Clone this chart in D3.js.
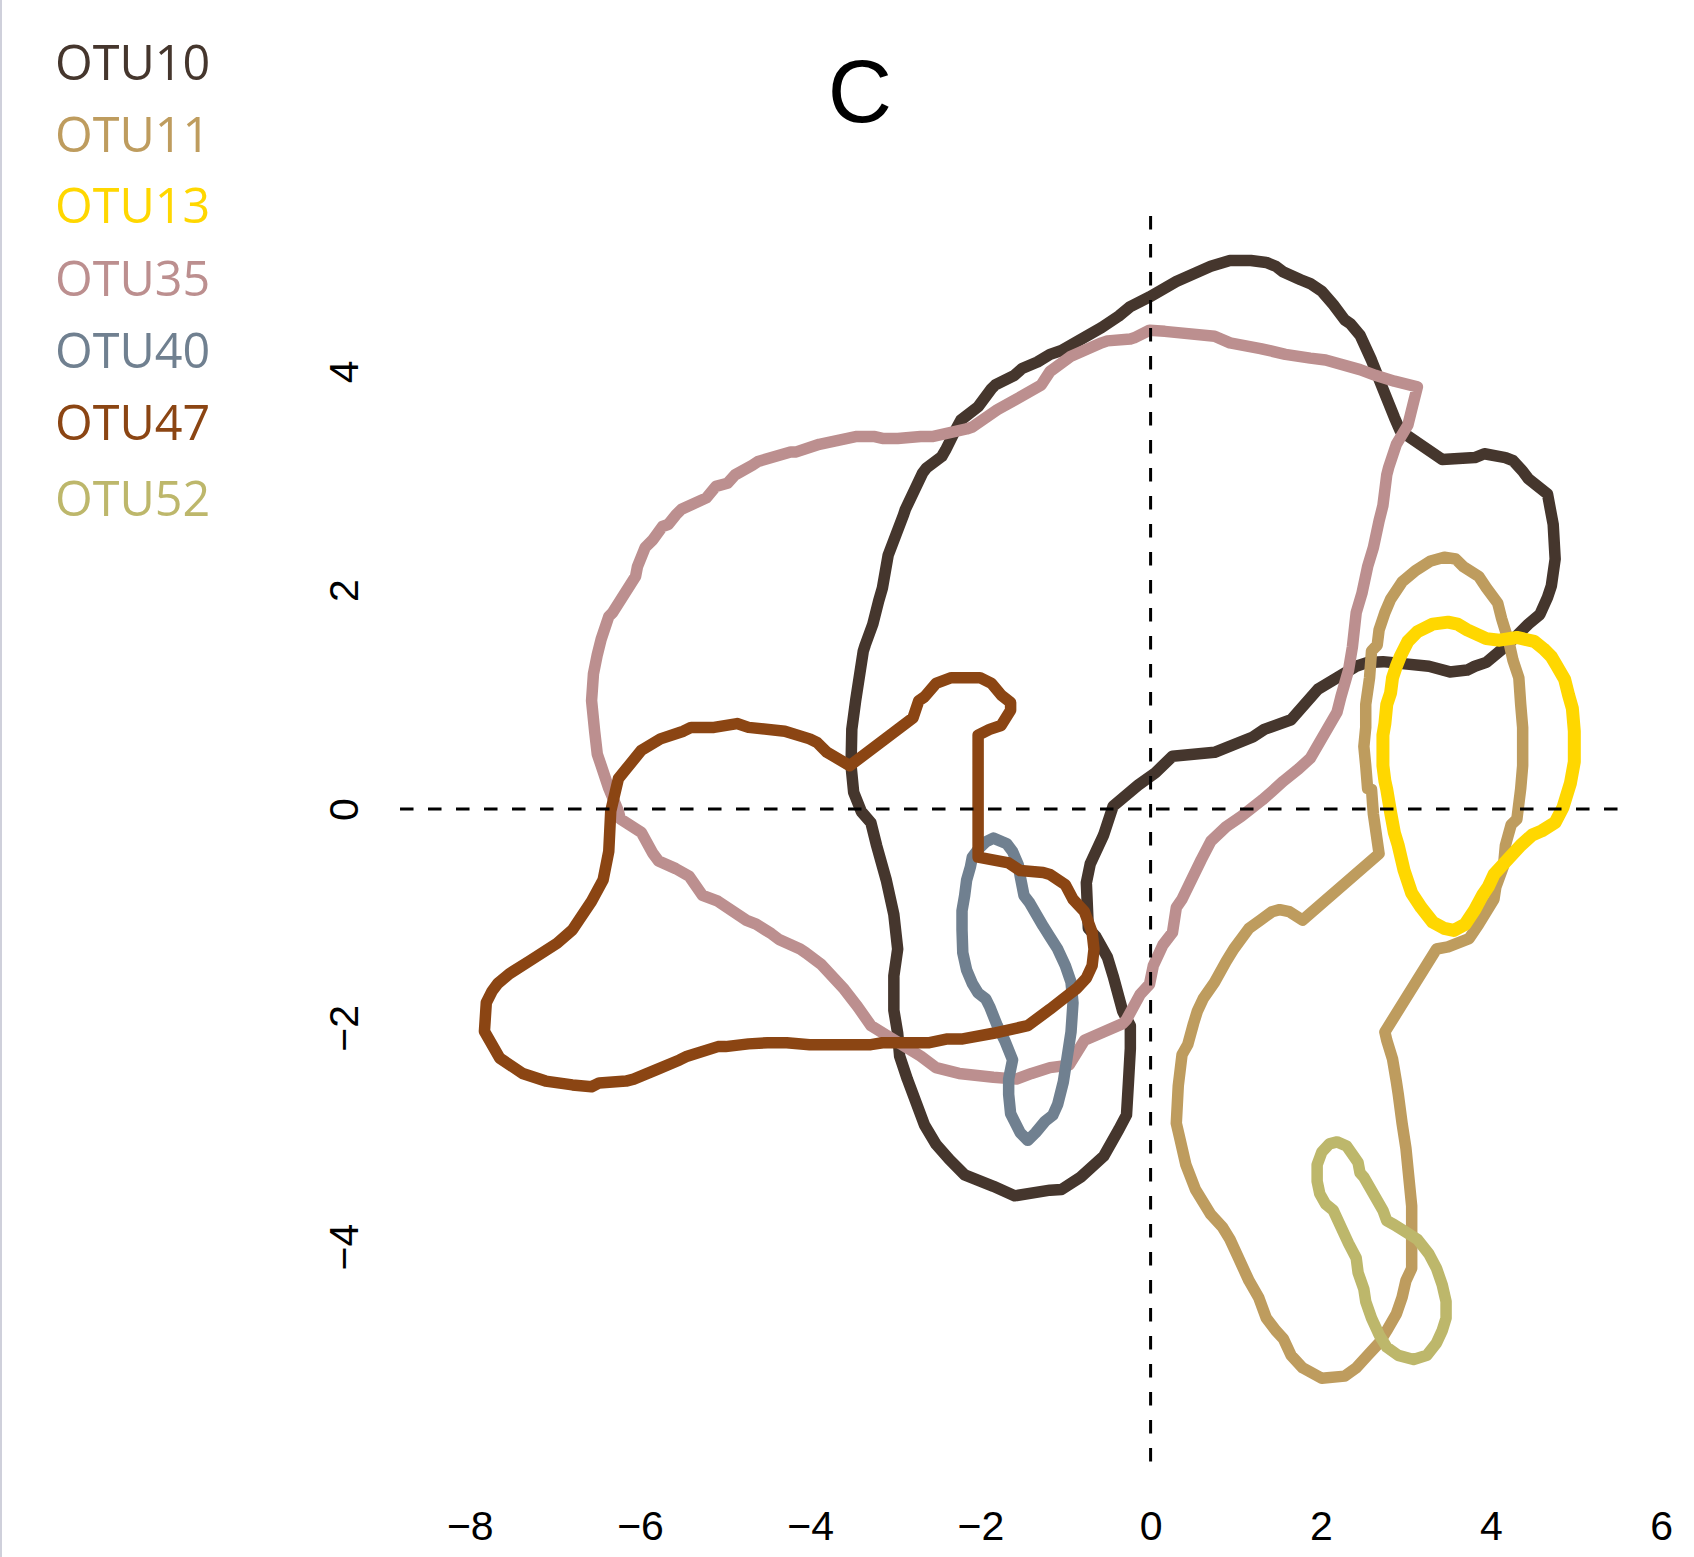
<!DOCTYPE html>
<html>
<head>
<meta charset="utf-8">
<script src="https://cdn.jsdelivr.net/npm/d3@7"></script>
<style>
  html, body { margin: 0; padding: 0; background: #fff; }
  svg { display: block; }
</style>
</head>
<body>
<script>
// Contour outlines for each OTU, as [x, y] ordination coordinates.
const otu10 = [
  [-1.182,4.156],[-1.330,4.086],[-1.510,4.027],[-1.600,3.964],[-1.825,3.876],[-1.870,3.841],
  [-2.027,3.677],[-2.230,3.555],[-2.297,3.457],[-2.409,3.282],[-2.454,3.222],[-2.634,3.117],
  [-2.679,3.072],[-2.882,2.739],[-2.904,2.687],[-3.084,2.320],[-3.151,2.022],[-3.196,1.900],
  [-3.264,1.690],[-3.354,1.498],[-3.376,1.445],[-3.466,0.990],[-3.511,0.728],[-3.520,0.396],
  [-3.489,0.151],[-3.399,-0.024],[-3.286,-0.126],[-3.219,-0.336],[-3.106,-0.650],[-3.017,-0.965],
  [-2.972,-1.280],[-3.017,-1.525],[-3.017,-1.840],[-2.972,-2.050],[-2.949,-2.259],[-2.859,-2.469],
  [-2.657,-2.889],[-2.522,-3.064],[-2.364,-3.204],[-2.185,-3.344],[-1.847,-3.449],[-1.600,-3.536],
  [-1.182,-3.484],[-1.047,-3.478],[-0.822,-3.365],[-0.552,-3.175],[-0.373,-2.929],[-0.283,-2.796],
  [-0.260,-2.493],[-0.238,-2.190],[-0.238,-1.981],[-0.328,-1.849],[-0.440,-1.527],[-0.507,-1.356],
  [-0.642,-1.167],[-0.732,-1.091],[-0.755,-0.674],[-0.710,-0.503],[-0.552,-0.238],[-0.440,0.027],
  [-0.148,0.217],[0.055,0.331],[0.257,0.482],[0.752,0.518],[1.201,0.658],[1.336,0.728],
  [1.651,0.816],[1.966,1.095],[2.191,1.200],[2.416,1.305],[2.550,1.340],[2.730,1.347],
  [3.270,1.305],[3.517,1.253],[3.720,1.270],[3.810,1.305],[3.945,1.340],[4.214,1.515],
  [4.439,1.690],[4.574,1.778],[4.664,1.935],[4.709,2.040],[4.754,2.285],[4.731,2.600],
  [4.664,2.879],[4.439,3.019],[4.372,3.089],[4.259,3.184],[4.169,3.212],[3.922,3.247],
  [3.810,3.212],[3.427,3.194],[2.933,3.457],[2.865,3.579],[2.730,3.841],[2.595,4.104],
  [2.461,4.331],[2.348,4.436],[2.281,4.471],[2.146,4.611],[2.011,4.733],[1.876,4.803],
  [1.763,4.838],[1.561,4.908],[1.471,4.961],[1.359,4.996],[1.179,5.013],[0.932,5.013],
  [0.707,4.961],[0.302,4.821],[-0.013,4.681],[-0.238,4.593],[-0.373,4.506],[-0.575,4.401],
  [-1.047,4.191]
];

const otu11 = [
  [2.550,0.186],[2.528,0.396],[2.506,0.571],[2.528,0.746],[2.528,0.955],[2.573,1.200],
  [2.596,1.445],[2.663,1.498],[2.685,1.638],[2.753,1.795],[2.820,1.917],[2.955,2.075],
  [3.113,2.180],[3.292,2.267],[3.450,2.302],[3.585,2.285],[3.675,2.215],[3.855,2.127],
  [3.945,2.022],[4.079,1.882],[4.124,1.743],[4.214,1.515],[4.259,1.358],[4.327,1.200],
  [4.349,0.955],[4.372,0.746],[4.372,0.396],[4.349,0.186],[4.304,-0.094],[4.237,-0.143],
  [4.169,-0.333],[4.147,-0.522],[4.057,-0.712],[4.035,-0.825],[3.855,-1.053],[3.742,-1.185],
  [3.495,-1.261],[3.360,-1.280],[2.753,-2.038],[2.775,-2.114],[2.843,-2.285],[2.888,-2.493],
  [2.910,-2.607],[2.955,-2.872],[3.000,-3.099],[3.068,-3.630],[3.068,-4.199],[3.000,-4.312],
  [2.955,-4.464],[2.888,-4.615],[2.775,-4.767],[2.685,-4.881],[2.550,-4.994],[2.416,-5.108],
  [2.281,-5.184],[2.011,-5.203],[1.786,-5.108],[1.651,-4.994],[1.561,-4.843],[1.471,-4.767],
  [1.359,-4.653],[1.269,-4.464],[1.156,-4.312],[1.022,-4.085],[0.932,-3.933],[0.842,-3.819],
  [0.707,-3.706],[0.527,-3.478],[0.414,-3.251],[0.347,-3.024],[0.302,-2.872],[0.325,-2.531],
  [0.369,-2.247],[0.437,-2.152],[0.504,-1.962],[0.549,-1.849],[0.617,-1.735],[0.752,-1.583],
  [0.887,-1.394],[0.977,-1.280],[1.067,-1.185],[1.156,-1.091],[1.291,-1.015],[1.426,-0.939],
  [1.516,-0.920],[1.629,-0.939],[1.786,-1.015],[2.685,-0.409],[2.618,-0.048],[2.596,0.179]
];

const otu13 = [
  [2.753,0.256],[2.730,0.396],[2.730,0.676],[2.753,0.781],[2.775,0.955],[2.820,1.060],
  [2.843,1.200],[2.888,1.305],[2.933,1.393],[3.023,1.533],[3.135,1.620],[3.315,1.690],
  [3.495,1.708],[3.607,1.690],[3.720,1.638],[3.945,1.557],[4.102,1.543],[4.304,1.568],
  [4.507,1.533],[4.619,1.463],[4.709,1.393],[4.776,1.305],[4.866,1.183],[4.911,1.043],
  [4.956,0.920],[4.979,0.711],[4.979,0.431],[4.934,0.238],[4.844,0.011],[4.754,-0.124],
  [4.597,-0.200],[4.484,-0.238],[4.349,-0.333],[4.124,-0.522],[4.035,-0.598],[3.967,-0.712],
  [3.900,-0.788],[3.810,-0.920],[3.697,-1.053],[3.562,-1.110],[3.450,-1.091],[3.315,-1.034],
  [3.180,-0.901],[3.068,-0.769],[2.978,-0.560],[2.910,-0.333],[2.865,-0.219],[2.820,-0.030],
  [2.775,0.179]
];

const otu35 = [
  [-6.457,0.399],[-6.367,0.189],[-6.254,-0.021],[-6.232,-0.091],[-5.985,-0.213],[-5.850,-0.405],
  [-5.782,-0.475],[-5.580,-0.545],[-5.422,-0.615],[-5.265,-0.790],[-5.085,-0.843],[-4.748,-1.018],
  [-4.635,-1.053],[-4.456,-1.140],[-4.366,-1.193],[-4.118,-1.280],[-4.051,-1.315],[-3.871,-1.420],
  [-3.601,-1.647],[-3.444,-1.805],[-3.286,-1.980],[-3.106,-2.067],[-2.702,-2.259],[-2.522,-2.364],
  [-2.252,-2.417],[-1.847,-2.452],[-1.577,-2.469],[-1.398,-2.417],[-1.182,-2.364],[-0.957,-2.341],
  [-0.777,-2.114],[-0.328,-1.962],[-0.283,-1.925],[-0.125,-1.697],[-0.013,-1.602],[0.032,-1.432],
  [0.145,-1.242],[0.257,-1.129],[0.302,-0.901],[0.369,-0.825],[0.594,-0.465],[0.707,-0.295],
  [0.887,-0.162],[1.067,-0.067],[1.314,0.084],[1.426,0.160],[1.561,0.255],[1.741,0.368],
  [1.876,0.463],[2.191,0.885],[2.236,1.025],[2.326,1.270],[2.371,1.480],[2.416,1.795],
  [2.483,1.970],[2.550,2.215],[2.618,2.390],[2.685,2.635],[2.730,2.774],[2.775,3.054],
  [2.798,3.124],[2.888,3.334],[3.023,3.509],[3.090,3.719],[3.135,3.859],[2.865,3.911],
  [2.641,3.964],[2.461,4.016],[2.056,4.104],[1.876,4.121],[1.584,4.156],[1.291,4.209],
  [0.932,4.261],[0.752,4.321],[0.167,4.366],[-0.013,4.376],[-0.193,4.307],[-0.238,4.296],
  [-0.507,4.279],[-0.575,4.261],[-0.935,4.139],[-1.182,3.999],[-1.285,3.876],[-1.600,3.736],
  [-1.802,3.649],[-2.095,3.492],[-2.162,3.474],[-2.567,3.404],[-2.702,3.404],[-2.972,3.387],
  [-3.151,3.387],[-3.241,3.404],[-3.466,3.404],[-3.893,3.334],[-4.163,3.264],[-4.231,3.264],
  [-4.613,3.177],[-4.680,3.142],[-4.883,3.054],[-4.973,2.977],[-5.108,2.949],[-5.220,2.844],
  [-5.512,2.740],[-5.580,2.687],[-5.670,2.600],[-5.737,2.582],[-5.850,2.460],[-5.940,2.390],
  [-6.030,2.215],[-6.052,2.127],[-6.322,1.795],[-6.367,1.760],[-6.457,1.550],[-6.502,1.410],
  [-6.547,1.235],[-6.569,0.990],[-6.533,0.711],[-6.502,0.501]
];

const otu40 = [
  [-1.847,-0.266],[-1.690,-0.318],[-1.622,-0.388],[-1.555,-0.510],[-1.532,-0.615],[-1.488,-0.790],
  [-1.420,-0.860],[-1.263,-1.070],[-1.182,-1.170],[-1.092,-1.280],[-1.002,-1.432],[-0.935,-1.583],
  [-0.912,-1.773],[-0.935,-2.038],[-0.980,-2.266],[-1.025,-2.493],[-1.092,-2.700],[-1.150,-2.800],
  [-1.240,-2.854],[-1.352,-2.959],[-1.443,-3.029],[-1.532,-2.959],[-1.600,-2.854],[-1.645,-2.784],
  [-1.668,-2.609],[-1.668,-2.469],[-1.622,-2.294],[-1.712,-2.120],[-1.802,-1.980],[-1.892,-1.805],
  [-1.937,-1.735],[-2.027,-1.682],[-2.095,-1.595],[-2.162,-1.472],[-2.207,-1.315],[-2.216,-1.105],
  [-2.216,-0.930],[-2.185,-0.790],[-2.162,-0.650],[-2.117,-0.528],[-2.095,-0.440],[-2.027,-0.370],
  [-1.937,-0.301]
];

const otu47 = [
  [-5.985,0.536],[-5.760,0.641],[-5.490,0.711],[-5.400,0.746],[-5.130,0.746],[-4.860,0.781],
  [-4.725,0.746],[-4.298,0.711],[-4.006,0.641],[-3.916,0.606],[-3.803,0.518],[-3.534,0.396],
  [-2.792,0.833],[-2.724,0.990],[-2.657,1.025],[-2.522,1.148],[-2.342,1.200],[-2.005,1.200],
  [-1.870,1.148],[-1.757,1.043],[-1.645,0.973],[-1.645,0.903],[-1.757,0.763],[-1.892,0.728],
  [-2.027,0.676],[-2.027,-0.440],[-1.668,-0.493],[-1.532,-0.563],[-1.263,-0.580],[-1.182,-0.598],
  [-1.002,-0.693],[-0.912,-0.825],[-0.777,-0.939],[-0.687,-1.129],[-0.665,-1.280],[-0.687,-1.432],
  [-0.755,-1.546],[-0.867,-1.640],[-1.025,-1.735],[-1.182,-1.830],[-1.443,-1.980],[-1.847,-2.050],
  [-2.207,-2.102],[-2.387,-2.102],[-2.612,-2.137],[-2.837,-2.137],[-3.151,-2.137],[-3.286,-2.154],
  [-4.006,-2.154],[-4.276,-2.137],[-4.500,-2.137],[-4.725,-2.147],[-4.995,-2.172],[-5.085,-2.172],
  [-5.445,-2.259],[-5.535,-2.294],[-5.805,-2.382],[-6.074,-2.469],[-6.164,-2.487],[-6.479,-2.504],
  [-6.569,-2.539],[-6.794,-2.522],[-7.109,-2.487],[-7.379,-2.417],[-7.648,-2.277],[-7.828,-2.032],
  [-7.806,-1.770],[-7.738,-1.665],[-7.671,-1.595],[-7.536,-1.507],[-7.289,-1.385],[-6.974,-1.227],
  [-6.794,-1.105],[-6.569,-0.843],[-6.434,-0.650],[-6.389,-0.475],[-6.367,-0.388],[-6.344,-0.021],
  [-6.254,0.277],[-6.164,0.364]
];

const otu52 = [
  [2.191,-3.043],[2.303,-3.080],[2.371,-3.156],[2.438,-3.232],[2.461,-3.327],[2.506,-3.365],
  [2.730,-3.668],[2.775,-3.763],[2.865,-3.801],[2.978,-3.857],[3.135,-3.933],[3.270,-4.066],
  [3.360,-4.199],[3.427,-4.350],[3.472,-4.502],[3.472,-4.654],[3.427,-4.767],[3.360,-4.881],
  [3.247,-4.994],[3.090,-5.032],[2.910,-4.994],[2.775,-4.919],[2.685,-4.805],[2.596,-4.654],
  [2.528,-4.502],[2.506,-4.388],[2.438,-4.237],[2.416,-4.104],[2.326,-3.971],[2.146,-3.668],
  [2.056,-3.611],[1.988,-3.517],[1.957,-3.403],[1.957,-3.251],[2.011,-3.137],[2.101,-3.061]
];

const otuNames  = ["OTU10", "OTU11", "OTU13", "OTU35", "OTU40", "OTU47", "OTU52"];
const otuColors = ["#45362d", "#be9c5e", "#ffd700", "#bc8f8f", "#708090", "#8b4513", "#bdb76b"];
const otuWidths = [11.5, 11.5, 13, 11.5, 11.5, 11.5, 11.5];
const otuShapes = [otu10, otu11, otu13, otu35, otu40, otu47, otu52];

const xTicks = [-8, -6, -4, -2, 0, 2, 4, 6];
const yTicks = [-4, -2, 0, 2, 4];
const hLineX = [-8.82, 5.65];   // extent of the y = 0 reference line
const vLineY = [-6.09, 5.42];   // extent of the x = 0 reference line
const panelTitle = "C";

const W = 1694, H = 1557;

const x = d3.scaleLinear().domain([-8, 6]).range([469.8, 1661.2]);
const y = d3.scaleLinear().domain([-4, 4]).range([1246.6, 371.4]);

const svg = d3.select("body").append("svg")
  .attr("width", W).attr("height", H)
  .attr("viewBox", `0 0 ${W} ${H}`);

svg.append("rect").attr("width", W).attr("height", H).attr("fill", "#fff");

// thin frame line along the left edge
svg.append("line")
  .attr("x1", 1).attr("x2", 1).attr("y1", 0).attr("y2", H)
  .attr("stroke", "#cfd0db").attr("stroke-width", 2);

// contours
const line = d3.line().x(d => x(d[0])).y(d => y(d[1])).curve(d3.curveLinearClosed);

svg.append("g").selectAll("path")
  .data(otuShapes)
  .join("path")
  .attr("d", d => line(d))
  .attr("fill", "none")
  .attr("stroke", (d, i) => otuColors[i])
  .attr("stroke-width", (d, i) => otuWidths[i])
  .attr("stroke-linejoin", "round")
  .attr("stroke-linecap", "round");

// dashed reference lines through the origin
const refs = svg.append("g")
  .attr("stroke", "#000").attr("stroke-width", 3)
  .attr("stroke-dasharray", "13.5,14.5");
refs.append("line")
  .attr("x1", x(hLineX[0])).attr("x2", x(hLineX[1]))
  .attr("y1", y(0)).attr("y2", y(0));
refs.append("line")
  .attr("x1", x(0)).attr("x2", x(0))
  .attr("y1", y(vLineY[1])).attr("y2", y(vLineY[0]));

// axis labels (no axis lines are drawn)
const xAxis = d3.axisBottom(x).tickValues(xTicks).tickSize(0).tickPadding(0)
  .tickFormat(d => d < 0 ? "\u2212" + Math.abs(d) : String(d));
const gx = svg.append("g").attr("transform", "translate(0,1511)").call(xAxis);
gx.select(".domain").remove();
gx.selectAll("text")
  .attr("font-family", "Liberation Sans, Arial, sans-serif")
  .attr("font-size", 41).attr("fill", "#000")
  .attr("dy", "0.71em");

const yAxis = d3.axisLeft(y).tickValues(yTicks).tickSize(0).tickPadding(0)
  .tickFormat(d => d < 0 ? "\u2212" + Math.abs(d) : String(d));
const gy = svg.append("g").attr("transform", "translate(358,0)").call(yAxis);
gy.select(".domain").remove();
gy.selectAll("text")
  .attr("font-family", "Liberation Sans, Arial, sans-serif")
  .attr("font-size", 41).attr("fill", "#000")
  .attr("x", 0).attr("dy", 0)
  .attr("text-anchor", "middle")
  .attr("transform", "rotate(-90)");

// panel title
svg.append("text")
  .attr("x", 860).attr("y", 122)
  .attr("text-anchor", "middle")
  .attr("font-family", "Liberation Sans, Arial, sans-serif")
  .attr("font-size", 89).attr("fill", "#000")
  .text(panelTitle);

// legend
const legendBase = [80, 152, 223, 296, 368, 440, 516];
svg.append("g").selectAll("text")
  .data(otuNames)
  .join("text")
  .attr("x", 55)
  .attr("y", (d, i) => legendBase[i])
  .attr("font-family", "Open Sans, Lato, sans-serif")
  .attr("font-size", 48.5)
  .attr("fill", (d, i) => otuColors[i])
  .text(d => d);
</script>
</body>
</html>
